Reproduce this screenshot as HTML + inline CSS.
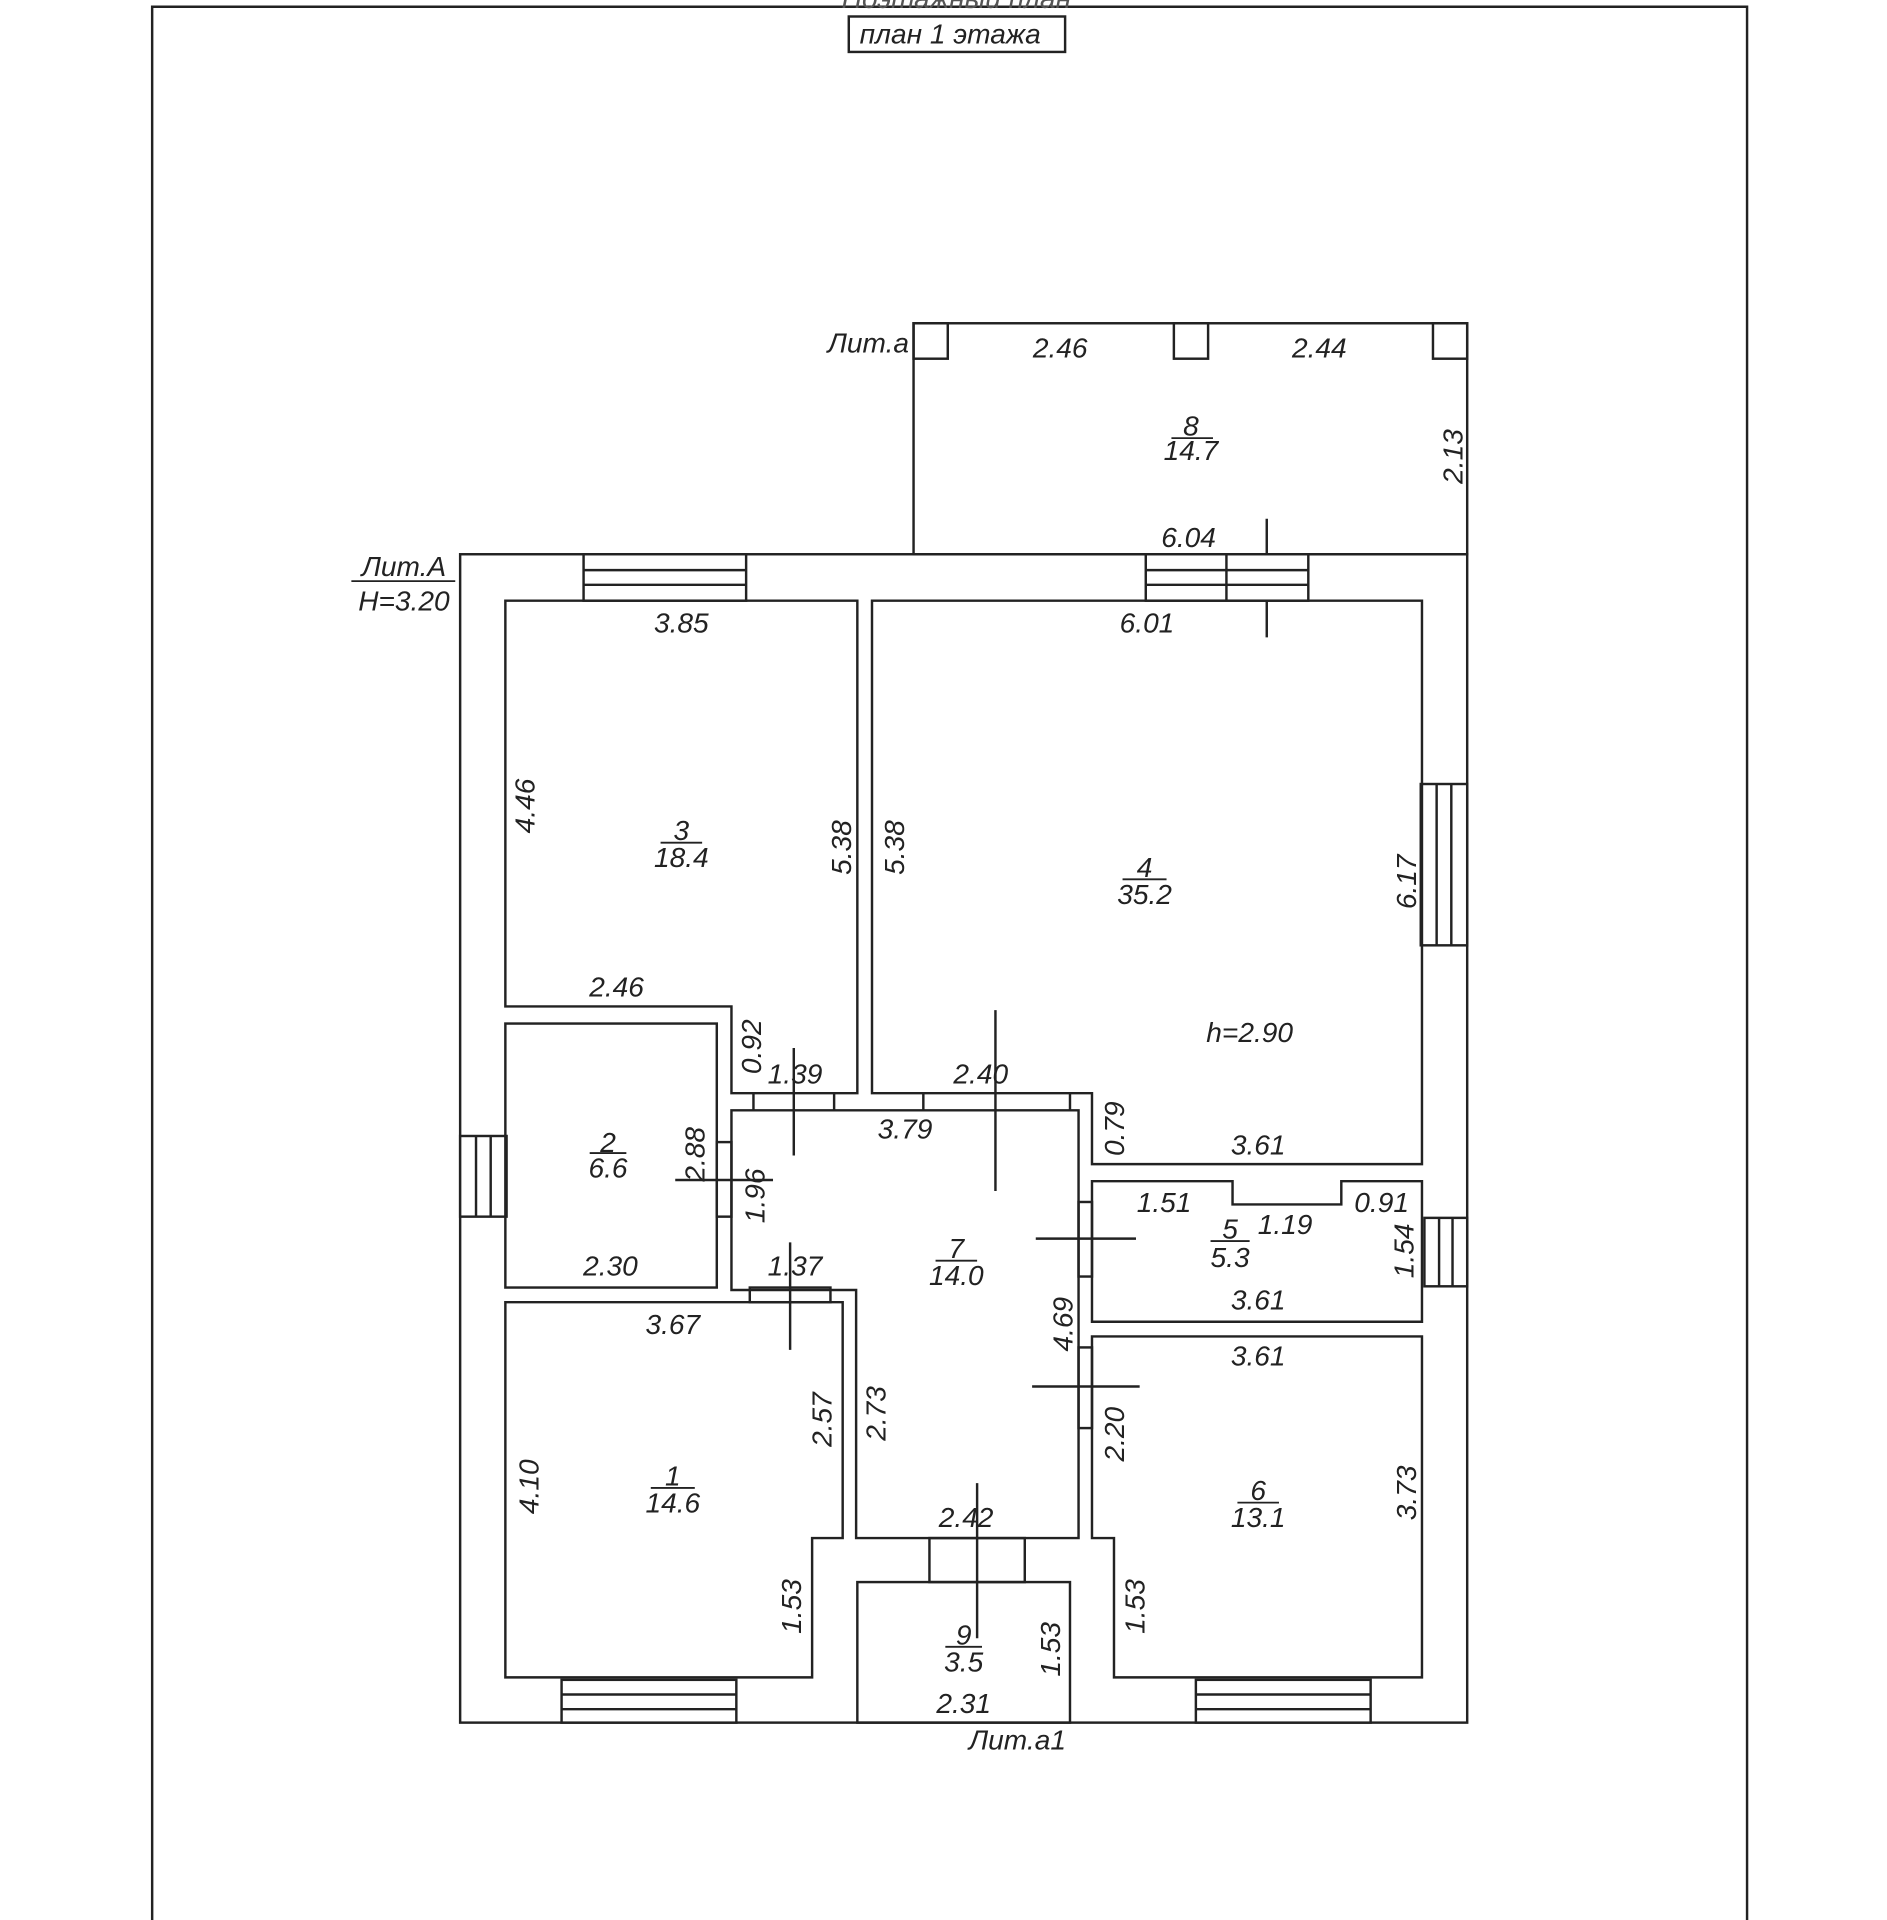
<!DOCTYPE html>
<html><head><meta charset="utf-8"><style>
html,body{margin:0;padding:0;background:#fff;}
svg{display:block}
text{font-family:"Liberation Sans",sans-serif;font-style:italic;font-size:23px;fill:#222;text-anchor:middle}
</style></head><body>
<svg width="1887" height="1920" viewBox="0 0 1544 1571" preserveAspectRatio="none" xmlns="http://www.w3.org/2000/svg">
<g transform="translate(2.5,1.5)">
<g fill="none" stroke="#222" stroke-width="2">
<polyline points="122,1571 122,4 1427,4 1427,1571"/>
<rect x="692" y="12" width="177" height="29"/>
<rect x="745" y="263" width="453" height="189"/>
<rect x="745" y="263" width="28" height="29"/>
<rect x="958" y="263" width="28" height="29"/>
<rect x="1170" y="263" width="28" height="29"/>
<line x1="1034" y1="423" x2="1034" y2="520"/>
<rect x="374" y="452" width="824" height="956"/>
<rect x="475" y="452" width="133" height="38" fill="#fff"/><line x1="475" y1="465" x2="608" y2="465"/><line x1="475" y1="477" x2="608" y2="477"/>
<rect x="935" y="452" width="133" height="38" fill="#fff"/><line x1="935" y1="465" x2="1068" y2="465"/><line x1="935" y1="477" x2="1068" y2="477"/><line x1="1001" y1="452" x2="1001" y2="490"/>
<rect x="1160" y="640" width="38" height="132" fill="#fff"/><line x1="1173" y1="640" x2="1173" y2="772"/><line x1="1185" y1="640" x2="1185" y2="772"/>
<rect x="374" y="928" width="38" height="66" fill="#fff"/><line x1="387" y1="928" x2="387" y2="994"/><line x1="399" y1="928" x2="399" y2="994"/>
<rect x="1163" y="995" width="35" height="56" fill="#fff"/><line x1="1175" y1="995" x2="1175" y2="1051"/><line x1="1186" y1="995" x2="1186" y2="1051"/>
<rect x="457" y="1373" width="143" height="35" fill="#fff"/><line x1="457" y1="1385" x2="600" y2="1385"/><line x1="457" y1="1397" x2="600" y2="1397"/>
<rect x="976" y="1373" width="143" height="35" fill="#fff"/><line x1="976" y1="1385" x2="1119" y2="1385"/><line x1="976" y1="1397" x2="1119" y2="1397"/>
<polygon points="411,490 699,490 699,893 596,893 596,822 411,822"/>
<polygon points="711,490 1161,490 1161,951 891,951 891,893 711,893"/>
<rect x="411" y="836" width="173" height="216"/>
<polygon points="596,907 880,907 880,1257 698,1257 698,1054 596,1054"/>
<polygon points="411,1064 687,1064 687,1257 662,1257 662,1371 411,1371"/>
<polygon points="891,965 1006,965 1006,984 1095,984 1095,965 1161,965 1161,1080 891,1080"/>
<polygon points="891,1092 1161,1092 1161,1371 909,1371 909,1257 891,1257"/>
<rect x="758" y="1257" width="78" height="36"/>
<rect x="699" y="1293" width="174" height="115"/>
<rect x="584" y="933" width="12" height="61"/>
<rect x="611" y="1052" width="66" height="12"/>
<rect x="880" y="982" width="11" height="61"/>
<rect x="880" y="1101" width="11" height="66"/>
<line x1="614" y1="893" x2="614" y2="907"/><line x1="680" y1="893" x2="680" y2="907"/><line x1="753" y1="893" x2="753" y2="907"/><line x1="873" y1="893" x2="873" y2="907"/>
<line x1="812" y1="825" x2="812" y2="973"/>
<line x1="647" y1="856" x2="647" y2="944"/>
<line x1="644" y1="1015" x2="644" y2="1103"/>
<line x1="550" y1="964" x2="630" y2="964"/>
<line x1="845" y1="1012" x2="927" y2="1012"/>
<line x1="842" y1="1133" x2="930" y2="1133"/>
<line x1="797" y1="1212" x2="797" y2="1339"/>
<line x1="285" y1="474" x2="370" y2="474" stroke-width="1.5"/>
<line x1="956" y1="357" x2="990" y2="357" stroke-width="1.5"/>
<line x1="538" y1="688" x2="572" y2="688" stroke-width="1.5"/>
<line x1="916" y1="718" x2="952" y2="718" stroke-width="1.5"/>
<line x1="480" y1="942" x2="510" y2="942" stroke-width="1.5"/>
<line x1="763" y1="1030" x2="797" y2="1030" stroke-width="1.5"/>
<line x1="988" y1="1014" x2="1020" y2="1014" stroke-width="1.5"/>
<line x1="530" y1="1216" x2="566" y2="1216" stroke-width="1.5"/>
<line x1="1010" y1="1228" x2="1044" y2="1228" stroke-width="1.5"/>
<line x1="771" y1="1346" x2="801" y2="1346" stroke-width="1.5"/>
</g>
<g>
<text x="780" y="5" style="fill:#555">Поэтажный план</text>
<text x="775" y="34">план 1 этажа</text>
<text x="708" y="287">Лит.а</text>
<text x="865" y="291">2.46</text><text x="1077" y="291">2.44</text>
<text x="972" y="355">8</text><text x="972" y="375">14.7</text>
<text x="970" y="446">6.04</text>
<text x="328" y="470">Лит.А</text><text x="328" y="498">H=3.20</text>
<text x="555" y="516">3.85</text><text x="936" y="516">6.01</text>
<text x="555" y="686">3</text><text x="555" y="708">18.4</text>
<text x="934" y="716">4</text><text x="934" y="738">35.2</text>
<text x="1020" y="851">h=2.90</text>
<text x="502" y="814">2.46</text>
<text x="648" y="885">1.39</text><text x="800" y="885">2.40</text>
<text x="738" y="930">3.79</text><text x="1027" y="943">3.61</text>
<text x="495" y="941">2</text><text x="495" y="962">6.6</text>
<text x="497" y="1042">2.30</text><text x="648" y="1042">1.37</text>
<text x="780" y="1028">7</text><text x="780" y="1050">14.0</text>
<text x="950" y="990">1.51</text><text x="1049" y="1008">1.19</text><text x="1128" y="990">0.91</text>
<text x="1004" y="1012">5</text><text x="1004" y="1035">5.3</text>
<text x="1027" y="1070">3.61</text><text x="1027" y="1116">3.61</text>
<text x="548" y="1090">3.67</text>
<text x="548" y="1214">1</text><text x="548" y="1236">14.6</text>
<text x="1027" y="1226">6</text><text x="1027" y="1248">13.1</text>
<text x="788" y="1248">2.42</text>
<text x="786" y="1344">9</text><text x="786" y="1366">3.5</text>
<text x="786" y="1400">2.31</text>
<text x="830" y="1430">Лит.а1</text>
<text transform="translate(1194,372) rotate(-90)">2.13</text>
<text transform="translate(435,658) rotate(-90)">4.46</text>
<text transform="translate(694,692) rotate(-90)">5.38</text>
<text transform="translate(737,692) rotate(-90)">5.38</text>
<text transform="translate(1156,720) rotate(-90)">6.17</text>
<text transform="translate(620,855) rotate(-90)">0.92</text>
<text transform="translate(917,922) rotate(-90)">0.79</text>
<text transform="translate(574,943) rotate(-90)">2.88</text>
<text transform="translate(623,977) rotate(-90)">1.96</text>
<text transform="translate(1154,1022) rotate(-90)">1.54</text>
<text transform="translate(875,1082) rotate(-90)">4.69</text>
<text transform="translate(678,1160) rotate(-90)">2.57</text>
<text transform="translate(722,1155) rotate(-90)">2.73</text>
<text transform="translate(917,1172) rotate(-90)">2.20</text>
<text transform="translate(438,1215) rotate(-90)">4.10</text>
<text transform="translate(1156,1220) rotate(-90)">3.73</text>
<text transform="translate(653,1313) rotate(-90)">1.53</text>
<text transform="translate(934,1313) rotate(-90)">1.53</text>
<text transform="translate(865,1348) rotate(-90)">1.53</text>
</g>
</g>
</svg>
</body></html>
